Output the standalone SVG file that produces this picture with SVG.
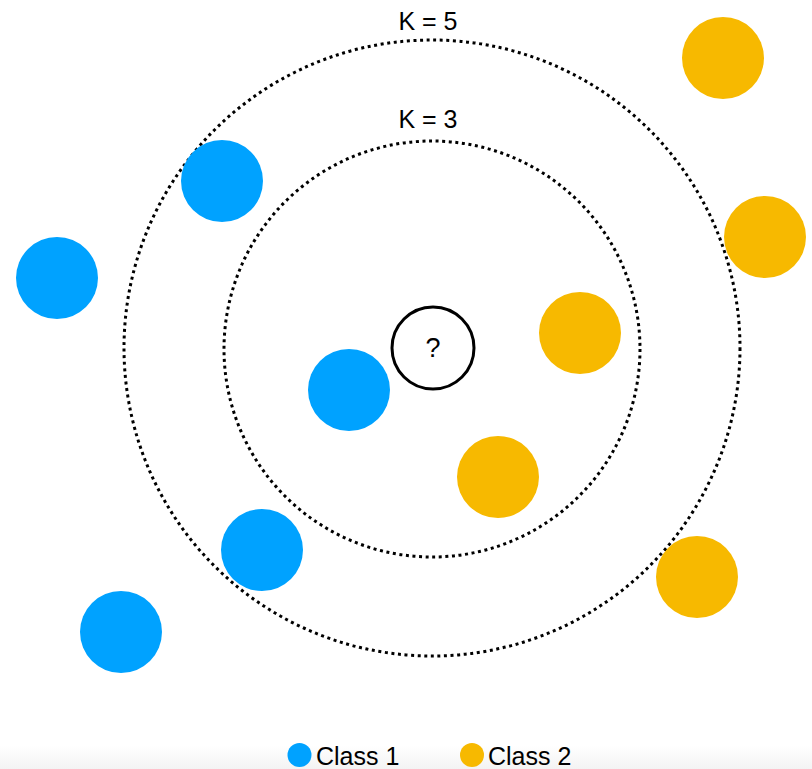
<svg xmlns="http://www.w3.org/2000/svg" width="812" height="769" viewBox="0 0 812 769">
  <defs>
    <linearGradient id="band" x1="0" y1="0" x2="0" y2="1">
      <stop offset="0" stop-color="#ffffff"/>
      <stop offset="1" stop-color="#f3f3f3"/>
    </linearGradient>
  </defs>
  <style>
    .ring { fill: none; stroke: #000; stroke-width: 3; stroke-dasharray: 3 3.6; }
    .c1 { fill: #00A2FF; }
    .c2 { fill: #F7B900; }
    .lbl { font-family: "Liberation Sans", Arial, sans-serif; fill: #000; }
  </style>
  <rect width="812" height="769" fill="#ffffff"/>
  <rect x="0" y="745" width="812" height="24" fill="url(#band)"/>

  <g id="connectors">
    <circle id="ring-k5" class="ring" cx="432" cy="348" r="308"/>
    <circle id="ring-k3" class="ring" cx="432" cy="349" r="208"/>
  </g>

  <text class="lbl" x="428" y="30" font-size="25" text-anchor="middle">K = 5</text>
  <text class="lbl" x="428" y="128" font-size="25" text-anchor="middle">K = 3</text>

  <g id="query">
    <circle cx="433" cy="348" r="41" fill="#fff" stroke="#000" stroke-width="3"/>
    <text class="lbl" x="433" y="357" font-size="27" text-anchor="middle">?</text>
  </g>

  <g id="b1"><circle class="c1" cx="222" cy="181" r="41"/></g>
  <g id="b2"><circle class="c1" cx="57" cy="278" r="41"/></g>
  <g id="b3"><circle class="c1" cx="349" cy="390" r="41"/></g>
  <g id="b4"><circle class="c1" cx="262" cy="550" r="41"/></g>
  <g id="b5"><circle class="c1" cx="121" cy="632" r="41"/></g>

  <g id="o1"><circle class="c2" cx="723" cy="58" r="41"/></g>
  <g id="o2"><circle class="c2" cx="765" cy="237" r="41"/></g>
  <g id="o3"><circle class="c2" cx="580" cy="333" r="41"/></g>
  <g id="o4"><circle class="c2" cx="498" cy="477" r="41"/></g>
  <g id="o5"><circle class="c2" cx="697" cy="577" r="41"/></g>

  <g id="legend">
    <circle class="c1" cx="299.5" cy="755" r="12"/>
    <text class="lbl" x="316" y="765" font-size="25">Class 1</text>
    <circle class="c2" cx="472" cy="755" r="12"/>
    <text class="lbl" x="488" y="765" font-size="25">Class 2</text>
  </g>
</svg>
